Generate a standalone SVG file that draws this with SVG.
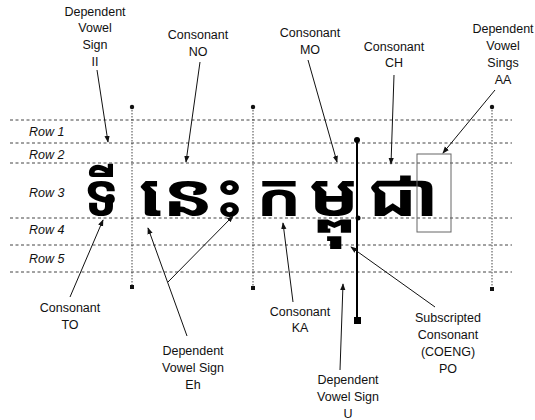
<svg xmlns="http://www.w3.org/2000/svg" width="535" height="420" viewBox="0 0 535 420">
<defs>
<style>
.lbl{font-family:"Liberation Sans",Arial,sans-serif;font-size:12.5px;fill:#111;text-anchor:middle}
.row{font-family:"Liberation Sans",Arial,sans-serif;font-size:12.5px;font-style:italic;fill:#111}
.grid{stroke:#444;stroke-width:1;stroke-dasharray:3 2.5;fill:none}
.vgrid{stroke:#444;stroke-width:1;stroke-dasharray:1.5 1.5;fill:none}
.lead{stroke:#111;stroke-width:1;fill:none;marker-end:url(#ah)}
.km{font-family:"Noto Sans Khmer","Noto Serif Khmer","Khmer OS","Khmer OS Muol","Khmer UI",sans-serif;font-weight:bold;fill:#000;font-size:60px}
</style>
<marker id="ah" viewBox="0 0 8 8" refX="7" refY="4" markerWidth="7" markerHeight="7" orient="auto" markerUnits="userSpaceOnUse">
<path d="M0,1 L8,4 L0,7 z" fill="#111"/>
</marker>
</defs>
<rect width="535" height="420" fill="#fff"/>
<g id="grid">
<line class="grid" x1="10" y1="120" x2="512" y2="120"/>
<line class="grid" x1="10" y1="143" x2="512" y2="143"/>
<line class="grid" x1="10" y1="163" x2="512" y2="163"/>
<line class="grid" x1="10" y1="218" x2="512" y2="218"/>
<line class="grid" x1="10" y1="245" x2="512" y2="245"/>
<line class="grid" x1="10" y1="272" x2="512" y2="272"/>
<line class="vgrid" x1="132" y1="107" x2="132" y2="287"/>
<circle cx="132" cy="107" r="2.2" fill="#111"/>
<rect x="130" y="285" width="4" height="4" fill="#111"/>
<line class="vgrid" x1="253" y1="107" x2="253" y2="288"/>
<circle cx="253" cy="107" r="2.2" fill="#111"/>
<rect x="251" y="286" width="4" height="4" fill="#111"/>
<line class="vgrid" x1="492" y1="107" x2="492" y2="289"/>
<circle cx="492" cy="107" r="2.2" fill="#111"/>
<rect x="490" y="287" width="4" height="4" fill="#111"/>
</g>
<g id="rows">
<text class="row" x="29" y="136">Row 1</text>
<text class="row" x="29" y="159">Row 2</text>
<text class="row" x="29" y="197">Row 3</text>
<text class="row" x="29" y="234">Row 4</text>
<text class="row" x="29" y="263">Row 5</text>
</g>
<g id="word">
<text class="km" x="84" y="216" textLength="35" lengthAdjust="spacingAndGlyphs">ទី</text>
<text class="km" x="138" y="216" textLength="107" lengthAdjust="spacingAndGlyphs">នេះ</text>
<text class="km" x="256" y="216" textLength="46" lengthAdjust="spacingAndGlyphs">ក</text>
<text class="km" x="308" y="216" textLength="52" lengthAdjust="spacingAndGlyphs">ម្ពុ</text>
<text class="km" x="367" y="216" textLength="72" lengthAdjust="spacingAndGlyphs">ជា</text>
<rect x="417" y="154" width="34" height="78" fill="none" stroke="#666" stroke-width="1"/>
</g>
<g id="cursor">
<line x1="357" y1="140" x2="357" y2="320" stroke="#000" stroke-width="2"/>
<circle cx="357" cy="140" r="3" fill="#000"/>
<circle cx="358" cy="218" r="2.5" fill="#000"/>
<rect x="354" y="317" width="7" height="7" fill="#000"/>
</g>
<g id="connectors">
<line class="lead" x1="97" y1="70" x2="108" y2="142"/>
<line class="lead" x1="200" y1="62" x2="186" y2="162"/>
<line class="lead" x1="308" y1="60" x2="337" y2="162"/>
<line class="lead" x1="394" y1="75" x2="391" y2="164"/>
<line class="lead" x1="495" y1="90" x2="443" y2="153"/>
<line class="lead" x1="70" y1="297" x2="103" y2="220"/>
<line class="lead" x1="187" y1="336" x2="148" y2="228"/>
<line class="lead" x1="168" y1="282" x2="233" y2="216"/>
<line class="lead" x1="293" y1="302" x2="283" y2="223"/>
<line class="lead" x1="340" y1="370" x2="343" y2="284"/>
<line class="lead" x1="435" y1="307" x2="351" y2="247"/>
</g>
<g id="lbl-ii"><text class="lbl" x="95" y="16">Dependent</text><text class="lbl" x="95" y="32">Vowel</text><text class="lbl" x="95" y="49">Sign</text><text class="lbl" x="95" y="66">II</text></g>
<g id="lbl-no"><text class="lbl" x="198" y="39">Consonant</text><text class="lbl" x="198" y="56">NO</text></g>
<g id="lbl-mo"><text class="lbl" x="310" y="37">Consonant</text><text class="lbl" x="310" y="54">MO</text></g>
<g id="lbl-ch"><text class="lbl" x="394" y="51">Consonant</text><text class="lbl" x="394" y="67">CH</text></g>
<g id="lbl-aa"><text class="lbl" x="503" y="33">Dependent</text><text class="lbl" x="503" y="50">Vowel</text><text class="lbl" x="503" y="67">Sings</text><text class="lbl" x="503" y="84">AA</text></g>
<g id="lbl-to"><text class="lbl" x="70" y="312">Consonant</text><text class="lbl" x="70" y="329">TO</text></g>
<g id="lbl-eh"><text class="lbl" x="193" y="355">Dependent</text><text class="lbl" x="193" y="372">Vowel Sign</text><text class="lbl" x="193" y="389">Eh</text></g>
<g id="lbl-ka"><text class="lbl" x="300" y="316">Consonant</text><text class="lbl" x="300" y="332">KA</text></g>
<g id="lbl-u"><text class="lbl" x="348" y="384">Dependent</text><text class="lbl" x="348" y="401">Vowel Sign</text><text class="lbl" x="348" y="418">U</text></g>
<g id="lbl-po"><text class="lbl" x="448" y="322">Subscripted</text><text class="lbl" x="448" y="339">Consonant</text><text class="lbl" x="448" y="356">(COENG)</text><text class="lbl" x="448" y="373">PO</text></g>
</svg>
